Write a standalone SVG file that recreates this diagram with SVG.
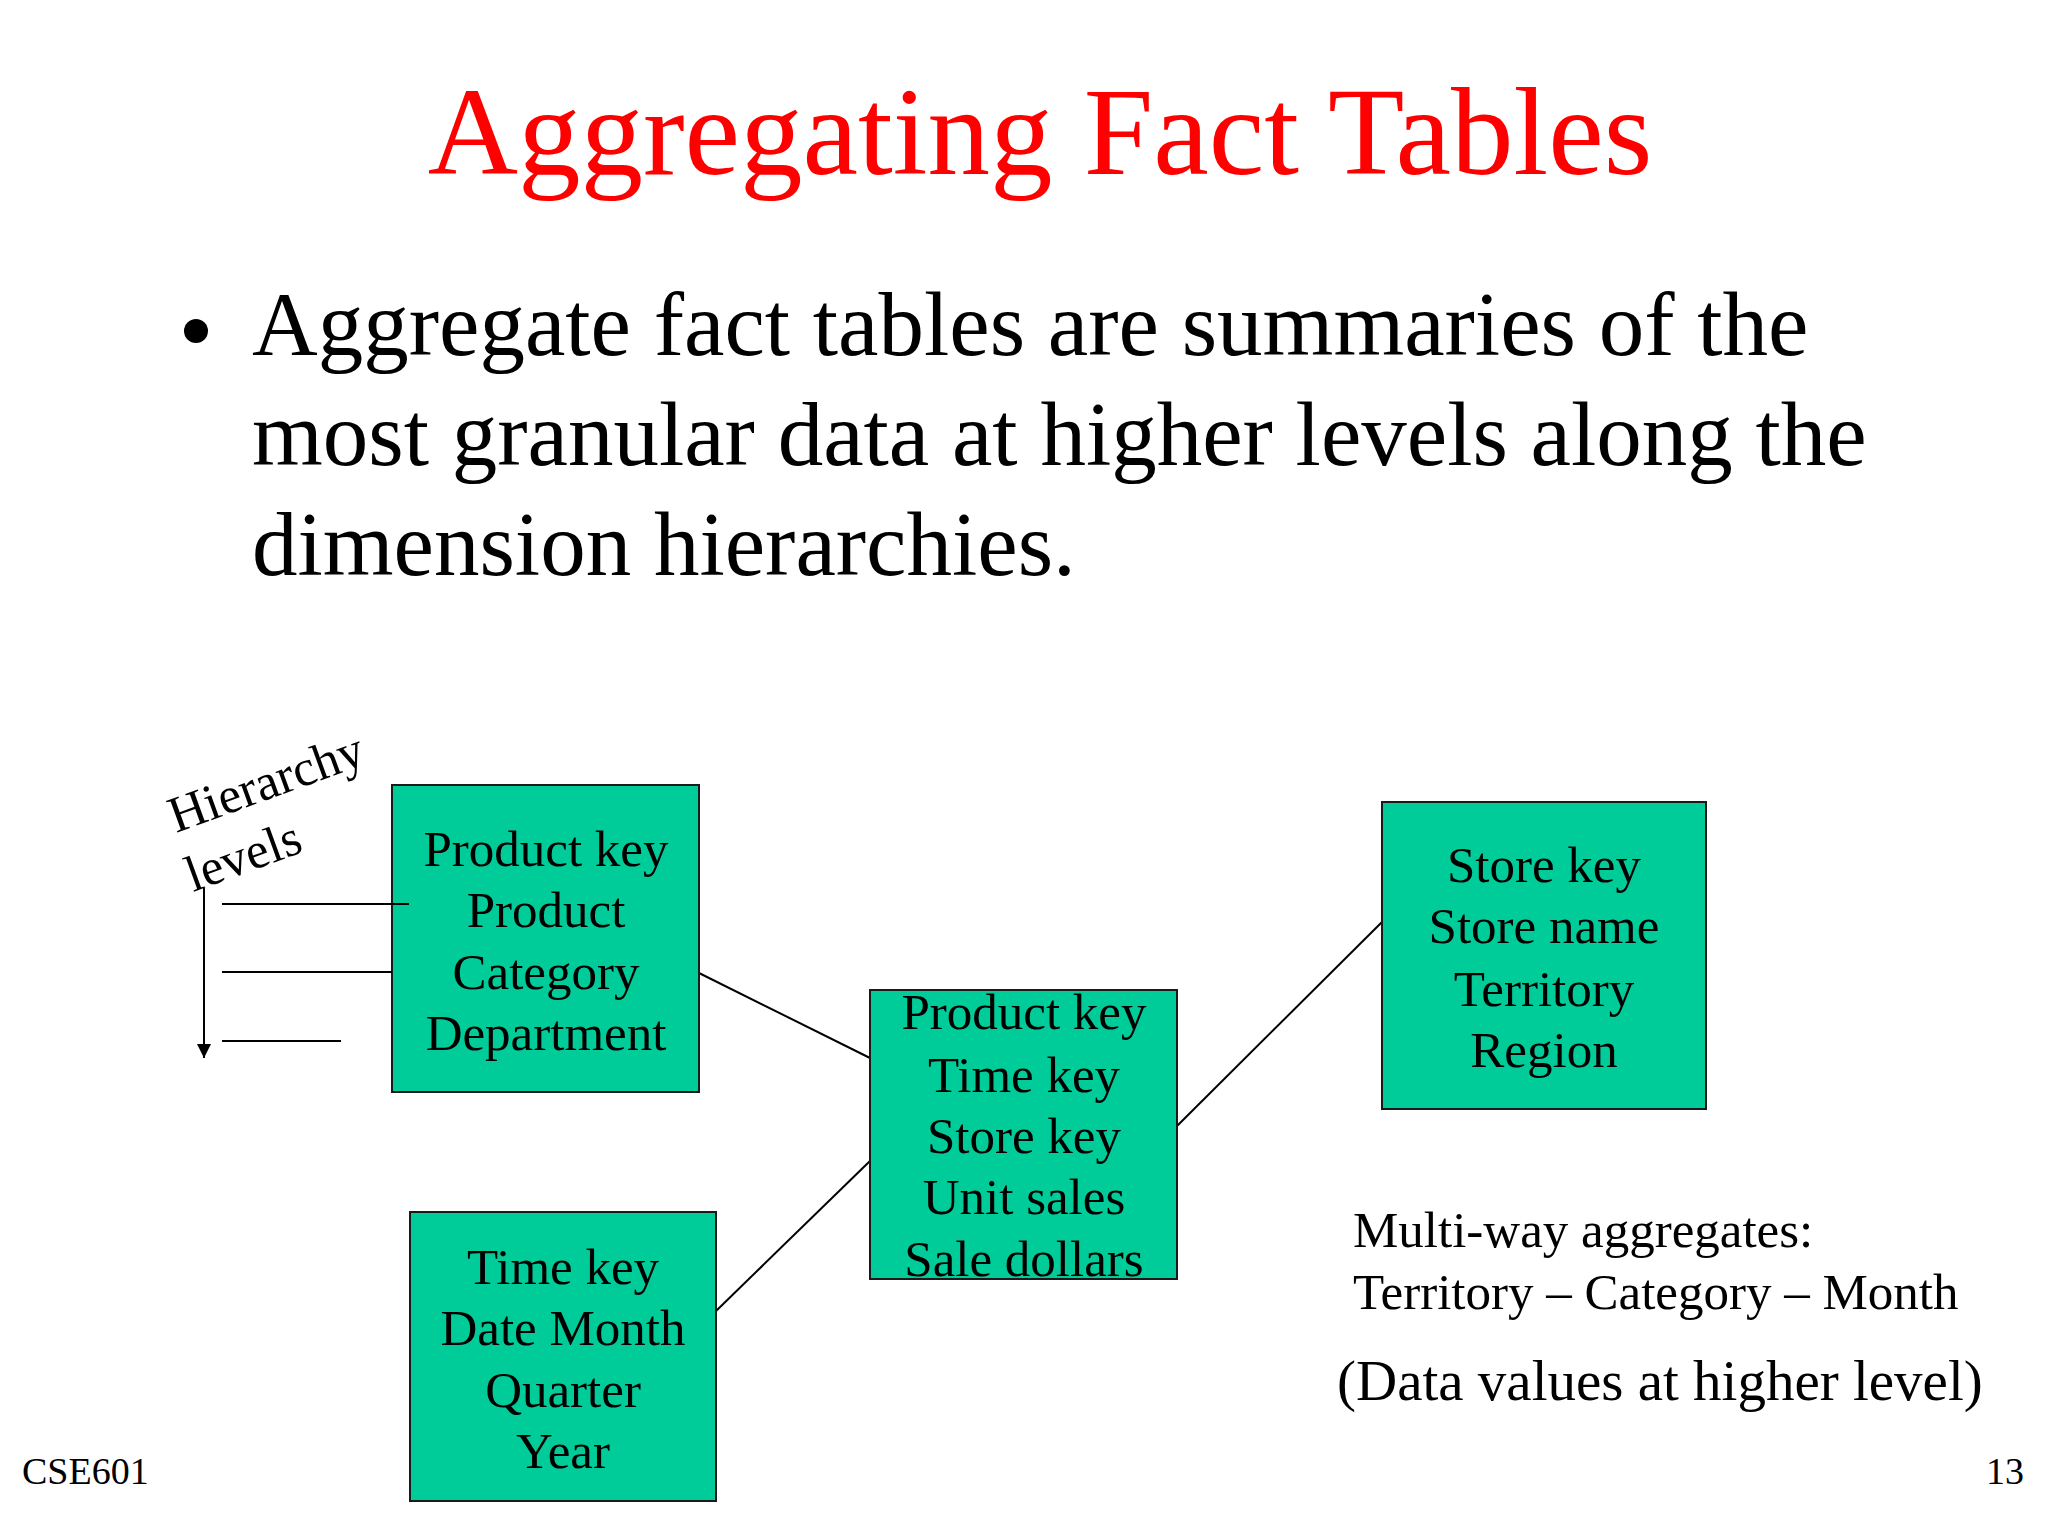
<svg xmlns="http://www.w3.org/2000/svg" width="2048" height="1536" viewBox="0 0 2048 1536">
<defs>
<style>
text { font-family: "Liberation Serif", "Times New Roman", serif; fill: #000; }
.title { font-size: 125px; fill: #ff0000; text-anchor: middle; }
.body { font-size: 91px; }
.box { fill: #00cc99; stroke: #1a1a1a; stroke-width: 2; }
.bt { font-size: 51px; text-anchor: middle; }
.note { font-size: 51px; }
.small { font-size: 38px; }
.line { stroke: #000; stroke-width: 2; fill: none; }
</style>
<marker id="arr" viewBox="0 0 10 10" refX="10" refY="5" markerWidth="16" markerHeight="14" markerUnits="userSpaceOnUse" orient="auto">
<path d="M0,0 L10,5 L0,10 z" fill="#000"/>
</marker>
</defs>
<rect width="2048" height="1536" fill="#ffffff"/>
<text class="title" x="1040" y="174">Aggregating Fact Tables</text>
<circle cx="196" cy="331" r="12" fill="#000"/>
<text class="body" x="252" y="355">Aggregate fact tables are summaries of the</text>
<text class="body" x="252" y="465">most granular data at higher levels along the</text>
<text class="body" x="252" y="575">dimension hierarchies.</text>

<g id="connectors">
<line class="line" x1="699" y1="973" x2="870" y2="1058"/>
<line class="line" x1="716" y1="1311" x2="870" y2="1161"/>
<line class="line" x1="1177" y1="1126" x2="1382" y2="922"/>
</g>

<g id="product">
<rect class="box" x="392" y="785" width="307" height="307"/>
<text class="bt" x="546" y="866">Product key</text>
<text class="bt" x="546" y="927">Product</text>
<text class="bt" x="546" y="989">Category</text>
<text class="bt" x="546" y="1050">Department</text>
</g>

<g id="hierarchy">
<text class="note" transform="translate(176,833) rotate(-20)">Hierarchy</text>
<text class="note" transform="translate(193,892) rotate(-20)">levels</text>
<line class="line" x1="204" y1="888" x2="204" y2="1058" marker-end="url(#arr)"/>
<line class="line" x1="222" y1="904" x2="409" y2="904"/>
<line class="line" x1="222" y1="972" x2="392" y2="972"/>
<line class="line" x1="222" y1="1041" x2="341" y2="1041"/>
</g>

<g id="fact">
<rect class="box" x="870" y="990" width="307" height="289"/>
<text class="bt" x="1024" y="1029">Product key</text>
<text class="bt" x="1024" y="1092">Time key</text>
<text class="bt" x="1024" y="1153">Store key</text>
<text class="bt" x="1024" y="1214">Unit sales</text>
<text class="bt" x="1024" y="1276">Sale dollars</text>
</g>

<g id="store">
<rect class="box" x="1382" y="802" width="324" height="307"/>
<text class="bt" x="1544" y="882">Store key</text>
<text class="bt" x="1544" y="943">Store name</text>
<text class="bt" x="1544" y="1006">Territory</text>
<text class="bt" x="1544" y="1067">Region</text>
</g>

<g id="time">
<rect class="box" x="410" y="1212" width="306" height="289"/>
<text class="bt" x="563" y="1284">Time key</text>
<text class="bt" x="563" y="1345">Date Month</text>
<text class="bt" x="563" y="1407">Quarter</text>
<text class="bt" x="563" y="1468">Year</text>
</g>

<text class="note" x="1353" y="1247">Multi-way aggregates:</text>
<text class="note" x="1353" y="1309">Territory – Category – Month</text>
<text class="note" x="1337" y="1400" style="font-size:57px">(Data values at higher level)</text>
<text class="small" x="22" y="1484">CSE601</text>
<text class="small" x="2024" y="1484" text-anchor="end">13</text>
</svg>
